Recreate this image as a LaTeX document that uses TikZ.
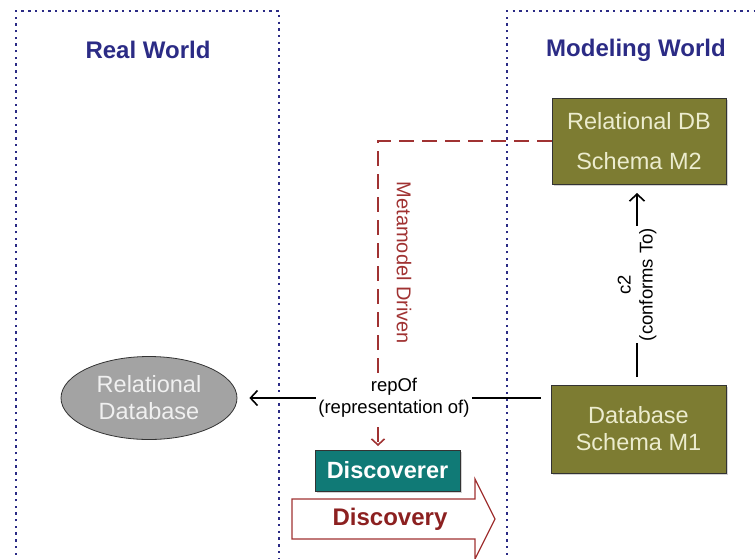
\documentclass[tikz,border=0pt]{standalone}
\usepackage{fontspec}
\setmainfont{Liberation Sans}
\usetikzlibrary{arrows.meta,shadows,shapes.geometric}
\definecolor{navy}{RGB}{43,43,133}
\definecolor{olivebox}{RGB}{125,124,50}
\definecolor{olivetext}{RGB}{236,236,206}
\definecolor{graybox}{RGB}{163,163,163}
\definecolor{graytext}{RGB}{240,240,240}
\definecolor{tealbox}{RGB}{16,122,118}
\definecolor{darkred}{RGB}{160,50,50}
\definecolor{discred}{RGB}{140,32,32}
\begin{document}
\begin{tikzpicture}[x=1pt,y=-1pt,
  worldbox/.style={draw=navy, line width=2.4pt, dash pattern=on 2.4pt off 4.3pt},
  worldtitle/.style={text=navy, font=\fontsize{24}{27}\selectfont\bfseries},
  modelbox/.style={draw=black!80, line width=0.8pt, fill=olivebox, text=olivetext, align=center,
     font=\fontsize{23.5}{27}\selectfont, drop shadow={opacity=0.35, shadow xshift=2pt, shadow yshift=-2pt}},
  realnode/.style={ellipse, draw=black!80, line width=0.8pt, fill=graybox, text=graytext, align=center,
     font=\fontsize{23.5}{27}\selectfont},
  toolbox/.style={draw=black!80, line width=0.8pt, fill=tealbox, text=white,
     font=\fontsize{23.5}{27}\selectfont\bfseries, drop shadow={opacity=0.35, shadow xshift=2pt, shadow yshift=-2pt}},
  conn/.style={line width=1.6pt, -{Straight Barb[length=7pt,width=15pt,line width=1.6pt]}},
  connlabel/.style={fill=white, align=center, inner sep=2pt, font=\fontsize{18.5}{22}\selectfont},
  mmdriven/.style={draw=darkred, line width=2pt, dash pattern=on 15pt off 8pt,
     -{Straight Barb[length=6pt,width=13pt,line width=1.6pt]}},
]
\useasboundingbox (0,0) rectangle (755,558);
\clip (0,0) rectangle (755,558);
% world frames
\draw[worldbox] (16,575) -- (16,11) -- (279,11) -- (279,575);
\draw[worldbox] (507,575) -- (507,11) -- (775,11);
\node[worldtitle] (rwtitle) at (148,50) {Real World};
\node[worldtitle] (mwtitle) at (636,50) {Modeling World};
% nodes
\node[modelbox, minimum width=174pt, minimum height=86pt] (m2) at (639,141) {Relational DB\\[13pt]Schema M2};
\node[modelbox, minimum width=175pt, minimum height=88pt] (m1) at (638.5,429) {Database\\Schema M1};
\node[realnode, minimum width=176pt, minimum height=83pt, inner sep=0pt] (rdb) at (149,398) {Relational\\Database};
\node[toolbox, minimum width=145pt, minimum height=41pt, inner sep=0pt] (disc) at (387.5,470.5) {Discoverer};
% metamodel driven
\coordinate (mdcorner) at (378,141);
\coordinate (mdend) at (378,446);
\draw[mmdriven] (m2.west) -- (mdcorner) -- (mdend);
\node[rotate=-90, text=darkred, font=\fontsize{20}{22}\selectfont] (mdlabel) at (404,263) {Metamodel Driven};
% repOf
\draw[conn, shorten <=10pt, shorten >=12pt] (m1.west |- 0,398) -- node[connlabel] (replabel) {repOf\\(representation of)} (rdb.east);
% conforms to
\draw[conn, shorten <=8pt, shorten >=9pt] (637,385) -- node[connlabel, rotate=90] (c2label) {c2\\(conforms To)} (637,184);
% discovery arrow
\draw[draw=darkred, line width=1.2pt, fill=white] (292,499) -- (475,499) -- (475,479) -- (495,519) -- (475,559) -- (475,539) -- (292,539) -- cycle;
\node[text=discred, font=\fontsize{24}{27}\selectfont\bfseries] (discovery) at (390,519) {Discovery};
\end{tikzpicture}
\end{document}
